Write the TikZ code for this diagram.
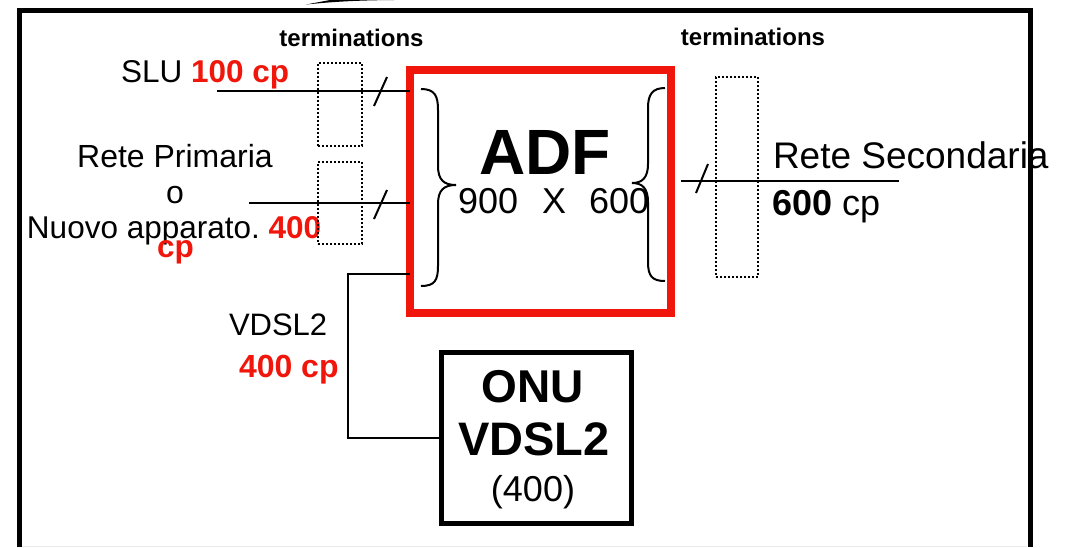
\documentclass[tikz,border=0pt]{standalone}
\usepackage{fontspec}
\setmainfont{Liberation Sans}
\definecolor{adfred}{RGB}{240,22,12}
\newcommand{\fs}[1]{\fontsize{#1}{#1}\selectfont}
\frenchspacing
\begin{document}
\begin{tikzpicture}[x=1pt,y=-1pt,
  txt/.style={inner sep=0pt, outer sep=0pt},
  termbox/.style={draw, line width=2pt, dash pattern=on 2pt off 2pt, inner sep=0pt, outer sep=0pt},
  wire/.style={line width=2.6pt},
  thinwire/.style={line width=2pt},
  slash/.style={line width=2pt},
  brace/.style={line width=2pt},
  redlbl/.style={text=adfred, font=\bfseries}
]
\useasboundingbox (0,0) rectangle (1066,547);
\fill[white] (0,0) rectangle (1066,547);

% top swoosh fragment
\fill[black] (306,4.5) .. controls (335,1.5) and (360,0.3) .. (394,0) -- (330,0) -- cycle;

% texts under the frame
\node[txt, anchor=base west] (rsec) at (773,168) {\fs{37}Rete Secondaria};
\node[txt, anchor=base west] (rsec2) at (772,215) {\fs{36}\textbf{600} cp};

% outer frame
\draw[line width=5pt, line join=miter] (19.5,547) -- (19.5,10) -- (1030,10) -- (1030,547);
\draw[black!8, line width=1pt] (22,546.5) -- (1027,546.5);

% labels
\node[txt, anchor=base] (term1) at (351.5,46) {\fs{24}\bfseries terminations};
\node[txt, anchor=base] (term2) at (753,45) {\fs{24}\bfseries terminations};
\node[txt, anchor=base west] (slu) at (121,82) {\fs{31.5}SLU \textcolor{adfred}{\bfseries 100 cp}};
\node[txt, anchor=base] (rp1) at (175,167) {\fs{32}Rete Primaria};
\node[txt, anchor=base] (rp2) at (175,203) {\fs{32}o};
\node[txt, anchor=base west] (rp3) at (27,238) {\fs{31.5}Nuovo apparato. \textcolor{adfred}{\bfseries 400}};
\node[txt, anchor=base west, redlbl] (rp4) at (157,257) {\fs{31.5}cp};
\node[txt, anchor=base west] (vd1) at (229,335) {\fs{31}VDSL2};
\node[txt, anchor=base west, redlbl] (vd2) at (239,377) {\fs{32}400 cp};

% ADF box
\node[draw=adfred, line width=8pt, minimum width=261pt, minimum height=243pt, inner sep=0pt, outer sep=0pt] (adf) at (540.5,191.5) {};
\node[txt, anchor=base] (adft) at (545,174) {\fs{64}\bfseries ADF};
\node[txt, anchor=base west] (adfn) at (458,213) {\fs{36}900\hspace{24pt}X\hspace{23pt}600};

% braces
\draw[brace] (421,89) .. controls (435,89) and (438,96) .. (438,110) -- (438,166)
  .. controls (438,180) and (444,185) .. (456,185)
  .. controls (444,185) and (438,190) .. (438,204) -- (438,266)
  .. controls (438,280) and (435,286) .. (421,286);
\draw[brace] (665,88) .. controls (652,88) and (648,95) .. (648,108) -- (648,164)
  .. controls (648,178) and (642,183) .. (632,183)
  .. controls (642,183) and (648,188) .. (648,202) -- (648,262)
  .. controls (648,276) and (652,281) .. (665,281);

% termination boxes
\node[termbox, minimum width=44pt, minimum height=83pt] (tb1) at (340,104.5) {};
\node[termbox, minimum width=44pt, minimum height=82pt] (tb2) at (340,203) {};
\node[termbox, minimum width=42pt, minimum height=200pt] (tb3) at (737,177) {};

% input lines
\coordinate (sluin) at (217,91);
\coordinate (rpin) at (249,203);
\coordinate (secout) at (899,181);
\coordinate (secin) at (681,181);
\draw[wire] (sluin) -- (sluin -| adf.west);
\draw[wire] (rpin) -- (rpin -| adf.west);
\draw[thinwire] (secin) -- (secout);
\draw[slash] (374,106) -- (387,77);
\draw[slash] (374,219) -- (387,190);
\draw[slash] (696,193) -- (708,164);

% ONU box
\node[draw, line width=5pt, minimum width=190pt, minimum height=171pt, inner sep=0pt, outer sep=0pt] (onu) at (536,437.5) {};
\node[txt, anchor=base] (onu1) at (533,402) {\fs{46}\bfseries ONU};
\node[txt, anchor=base] (onu2) at (534,455) {\fs{47}\bfseries VDSL2};
\node[txt, anchor=base] (onu3) at (533,501) {\fs{36}(400)};

% VDSL2 connector
\coordinate (vdout) at (410,274);
\draw[thinwire] (vdout -| adf.west) -- (348,274) |- (onu.west);
\end{tikzpicture}
\end{document}
